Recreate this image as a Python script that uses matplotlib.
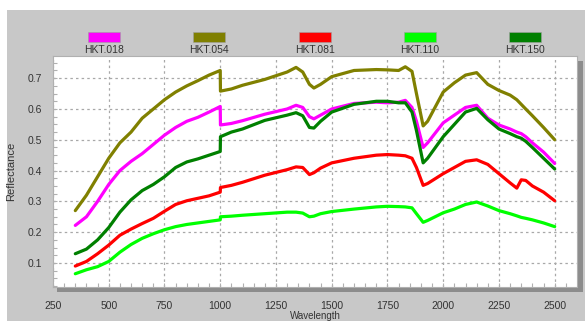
import numpy as np
import matplotlib
matplotlib.use('Agg')
from matplotlib import pyplot as plt
from matplotlib.patches import Rectangle

plt.rc('font', family=['Liberation Sans', 'DejaVu Sans'])

# Data (wavelength in nm, reflectance)
wl = [350, 400, 450, 500, 550, 600, 650, 700, 750, 800, 850, 900, 950, 1000, 1001,
      1050, 1100, 1200, 1300, 1340, 1370, 1400, 1420, 1450, 1500, 1600, 1700, 1750,
      1800, 1830, 1860, 1880, 1910, 1930, 2000, 2050, 2100, 2150, 2200, 2250, 2300,
      2330, 2350, 2370, 2400, 2450, 2500]

hkt018 = [0.222, 0.25, 0.30, 0.355, 0.40, 0.43, 0.455, 0.485, 0.515, 0.54, 0.56, 0.573, 0.59, 0.608, 0.548,
          0.553, 0.562, 0.583, 0.60, 0.612, 0.605, 0.575, 0.568, 0.58, 0.60, 0.618, 0.622, 0.62,
          0.622, 0.628, 0.605, 0.56, 0.475, 0.49, 0.555, 0.58, 0.605, 0.612, 0.57, 0.548, 0.535,
          0.525, 0.52, 0.51, 0.49, 0.46, 0.423]

hkt054 = [0.27, 0.32, 0.38, 0.44, 0.49, 0.525, 0.57, 0.60, 0.63, 0.655, 0.675, 0.692, 0.71, 0.725, 0.658,
          0.665, 0.677, 0.696, 0.72, 0.735, 0.72, 0.68, 0.668, 0.68, 0.705, 0.725, 0.728, 0.727,
          0.725, 0.737, 0.722, 0.65, 0.545, 0.56, 0.655, 0.685, 0.71, 0.718, 0.68, 0.66, 0.645,
          0.63, 0.615, 0.60, 0.578, 0.54, 0.50]

hkt081 = [0.09, 0.105, 0.13, 0.158, 0.19, 0.21, 0.228, 0.245, 0.268, 0.29, 0.302, 0.31, 0.318, 0.33, 0.345,
          0.352, 0.362, 0.385, 0.403, 0.412, 0.41, 0.387, 0.393, 0.408, 0.425, 0.44, 0.45, 0.452,
          0.45, 0.448, 0.44, 0.41, 0.352, 0.358, 0.39, 0.41, 0.43, 0.435, 0.42, 0.39, 0.36,
          0.343, 0.37, 0.368, 0.35, 0.33, 0.302]

hkt110 = [0.065, 0.078, 0.088, 0.105, 0.135, 0.16, 0.18, 0.195, 0.208, 0.218, 0.225, 0.23, 0.235, 0.24, 0.25,
          0.252, 0.255, 0.26, 0.265, 0.265, 0.262, 0.25, 0.252, 0.26, 0.267, 0.275, 0.282, 0.284,
          0.283, 0.282, 0.279, 0.26, 0.232, 0.238, 0.263, 0.275, 0.29, 0.298, 0.285, 0.27, 0.26,
          0.253, 0.248, 0.245, 0.24, 0.23, 0.218]

hkt150 = [0.13, 0.145, 0.175, 0.215, 0.265, 0.305, 0.335, 0.355, 0.38, 0.41, 0.428, 0.438, 0.45, 0.462, 0.51,
          0.525, 0.535, 0.563, 0.58, 0.588, 0.578, 0.54, 0.538, 0.56, 0.59, 0.615, 0.625, 0.625,
          0.62, 0.62, 0.59, 0.53, 0.425, 0.44, 0.51, 0.55, 0.59, 0.602, 0.565, 0.535, 0.52,
          0.51, 0.505, 0.495, 0.475, 0.44, 0.405]

names = ['HKT.018', 'HKT.054', 'HKT.081', 'HKT.110', 'HKT.150']
series = [hkt018, hkt054, hkt081, hkt110, hkt150]
colors = ['#ff00ff', '#808000', '#ff0000', '#00ff00', '#008000']

W, H = 585, 321
fig = plt.figure(figsize=[W / 100, H / 100], dpi=100)
fig.patch.set_facecolor('white')
# gray panel behind everything
fig.patches.append(Rectangle((7 / W, 0), 1, 1 - 10 / H, transform=fig.transFigure,
                             facecolor='#c8c8c8', edgecolor='none', zorder=0))

l, r, t, b = 53, 577, 56, 287
ax = fig.add_axes([l / W, 1 - b / H, (r - l) / W, (b - t) / H])
# drop shadow of the plot area
fig.patches.append(Rectangle(((l + 4) / W, 1 - (b + 5) / H), (r - l + 2) / W, (b - t) / H,
                             transform=fig.transFigure, facecolor='#8c8c8c', edgecolor='none', zorder=0.5))
ax.set_zorder(1)

for ys, c in zip(series, colors):
    ax.plot(wl, ys, color=c, lw=2.3, solid_capstyle='round', solid_joinstyle='round')

ax.set_xlim(250, 2600)
ax.set_ylim(0.022, 0.772)
ax.set_xticks(np.arange(250, 2501, 250))
ax.set_yticks(np.arange(0.1, 0.71, 0.1))
ax.set_yticklabels([f'{v:.1f}' for v in np.arange(0.1, 0.71, 0.1)])
ax.set_xticks(np.arange(250, 2600, 50), minor=True)
ax.set_yticks(np.arange(0.025, 0.77, 0.025), minor=True)
ax.grid(True, which='major', color='#a8a8a8', ls=(0, (2, 2.5)), lw=0.9)
ax.tick_params(which='both', direction='in', colors='#b0b0b0', labelcolor='#333333',
               labelsize=7.5, length=3, width=0.8)
ax.tick_params(axis='x', pad=10)
ax.tick_params(axis='y', pad=8)
for s in ax.spines.values():
    s.set_color('#b0b0b0')
    s.set_linewidth(0.8)

ax.set_xlabel('Wavelength', fontsize=7, color='#333333', labelpad=0)
ax.set_ylabel('Reflectance', fontsize=8, color='#333333', labelpad=8)

# legend boxes above the plot
for i, (n, c) in enumerate(zip(names, colors)):
    cx = 104 + i * 105.3
    fig.patches.append(Rectangle(((cx - 16) / W, 1 - 42 / H), 32 / W, 10 / H,
                                 transform=fig.transFigure, facecolor=c,
                                 edgecolor='#a0a0a0', lw=0.4, zorder=2))
    fig.text(cx / W, 1 - 50 / H, n, ha='center', va='center', fontsize=7.5, color='#333333')

fig.savefig('out.png', dpi=100, facecolor=fig.get_facecolor())
